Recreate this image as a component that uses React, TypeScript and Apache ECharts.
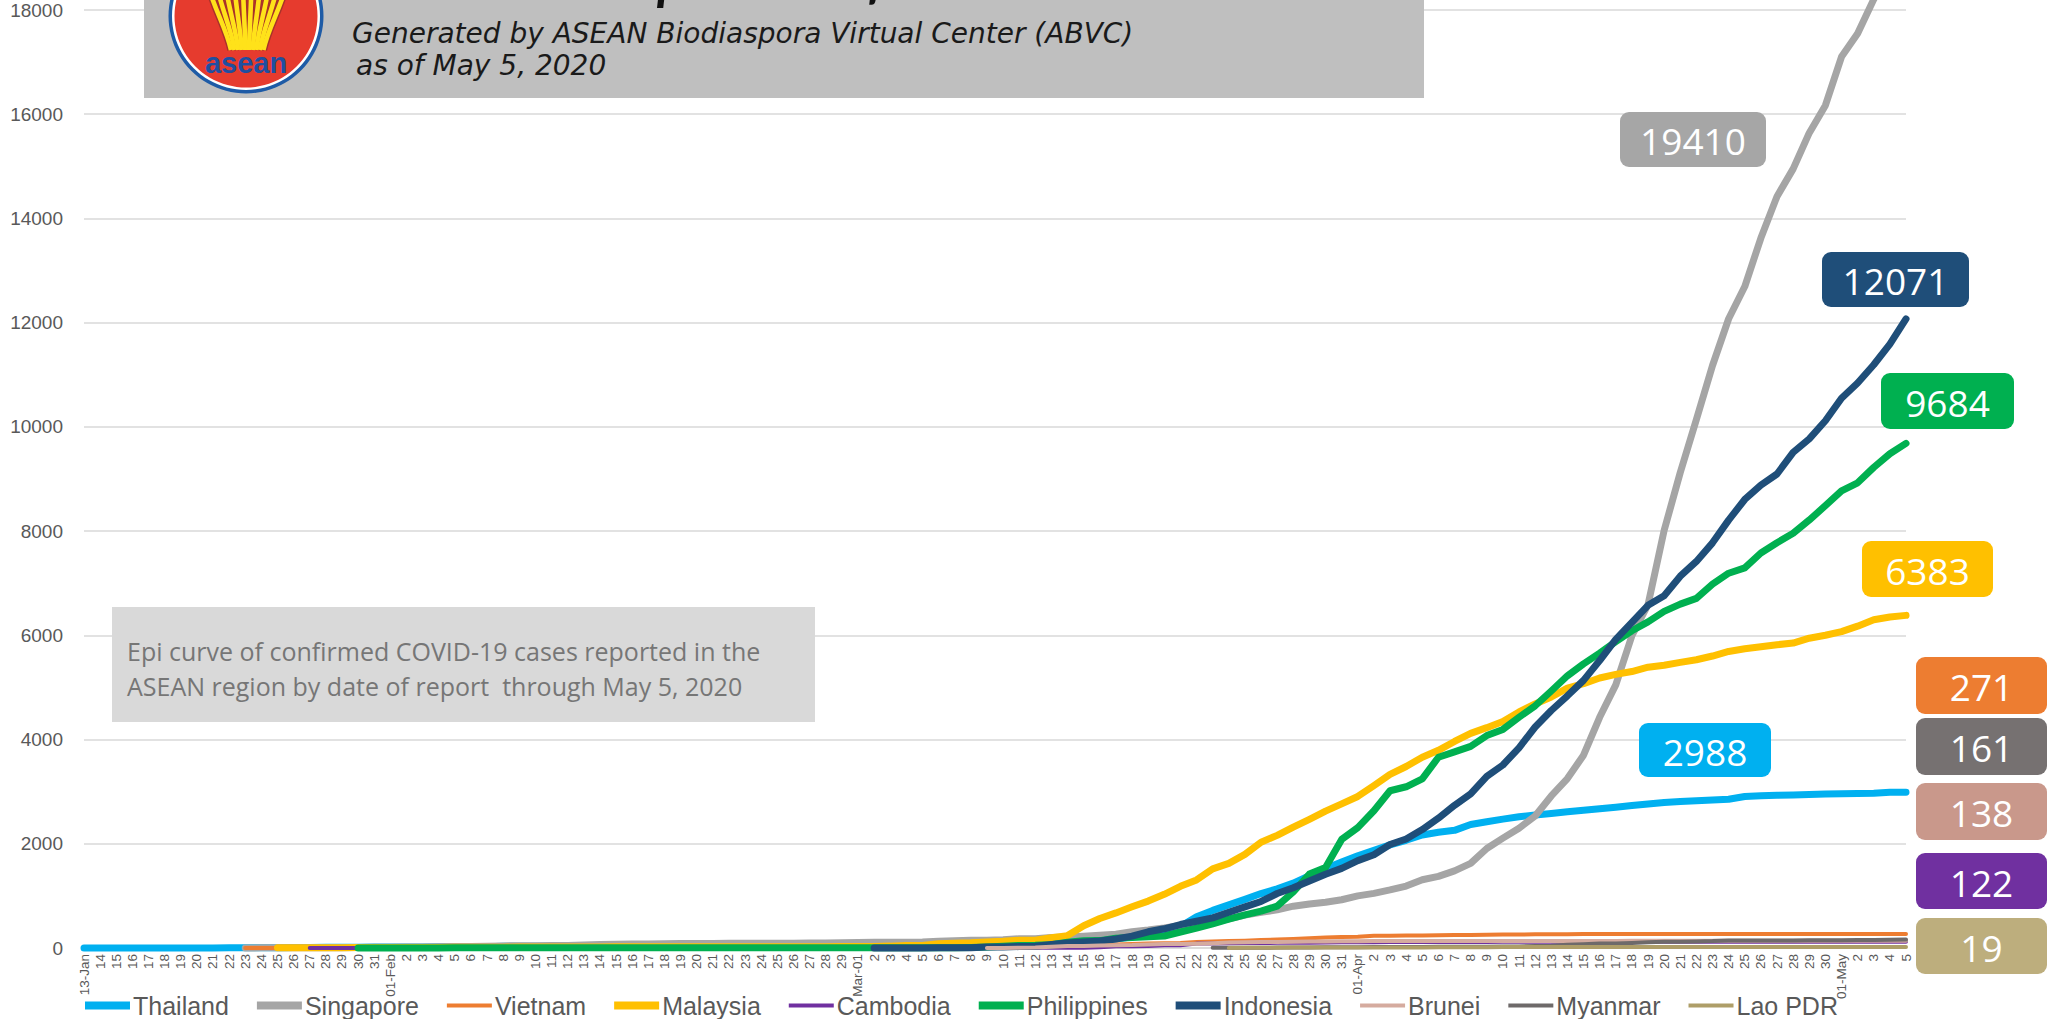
import React, { useEffect, useRef } from "react";
import * as echarts from "echarts";

// ---------- DATA ----------
const monthSpans = [
  { from: 13, to: 31, firstLabel: "13-Jan" },
  { from: 1, to: 29, firstLabel: "01-Feb" },
  { from: 1, to: 31, firstLabel: "Mar-01" },
  { from: 1, to: 30, firstLabel: "01-Apr" },
  { from: 1, to: 5, firstLabel: "01-May" },
];
const dateLabels: string[] = [];
monthSpans.forEach((m) => {
  for (let d = m.from; d <= m.to; d++) dateLabels.push(d === m.from ? m.firstLabel : String(d));
});

const N = null;

const thailand = [
  1, 1, 1, 1, 2, 2, 2, 2, 2, 4, 4, 5, 7, 8, 8, 14, 14, 14, 19,
  19, 19, 19, 25, 25, 25, 25, 32, 32, 32, 33, 33, 33, 33, 34, 34, 35, 35, 35, 35, 35, 35, 35, 35, 37, 40, 40, 41, 42,
  42, 43, 43, 43, 47, 48, 50, 50, 50, 53, 59, 70, 75, 82, 114, 147, 177, 212, 272, 322, 411, 599, 721, 827, 934, 1045, 1136, 1245, 1388, 1524, 1651,
  1771, 1875, 1978, 2067, 2169, 2220, 2258, 2369, 2423, 2473, 2518, 2551, 2579, 2613, 2643, 2672, 2700, 2733, 2765, 2792, 2811, 2826, 2839, 2854, 2907, 2922, 2931, 2938, 2947, 2954,
  2960, 2966, 2969, 2987, 2988,
];
const singapore = [
  N, N, N, N, N, N, N, N, N, N, 1, 3, 3, 4, 5, 7, 7, 10, 13,
  16, 18, 18, 24, 28, 30, 33, 40, 43, 45, 47, 50, 58, 67, 72, 75, 77, 81, 84, 84, 85, 89, 89, 90, 91, 93, 96, 98, 102,
  106, 108, 110, 112, 117, 130, 138, 150, 150, 160, 178, 178, 200, 212, 226, 243, 266, 313, 345, 385, 432, 455, 509, 558, 631, 683, 732, 802, 844, 879, 926,
  1000, 1049, 1114, 1189, 1309, 1375, 1481, 1623, 1910, 2108, 2299, 2532, 2918, 3252, 3699, 4427, 5050, 5992, 6588, 8014, 9125, 10141, 11178, 12075, 12693, 13624, 14423, 14951, 15641, 16169,
  17101, 17548, 18205, 18778, 19410,
];
const vietnam = [
  N, N, N, N, N, N, N, N, N, N, 2, 2, 2, 2, 2, 2, 2, 2, 2,
  6, 8, 8, 10, 10, 12, 12, 13, 14, 14, 15, 15, 16, 16, 16, 16, 16, 16, 16, 16, 16, 16, 16, 16, 16, 16, 16, 16, 16,
  16, 16, 16, 16, 16, 17, 18, 30, 31, 31, 38, 39, 47, 53, 57, 61, 66, 75, 85, 91, 94, 113, 123, 134, 141, 153, 163, 174, 188, 203, 212,
  218, 233, 237, 240, 241, 245, 249, 251, 255, 257, 258, 262, 265, 265, 267, 268, 268, 268, 268, 268, 268, 268, 268, 270, 270, 270, 270, 270, 270, 270,
  270, 271, 271, 271, 271,
];
const malaysia = [
  N, N, N, N, N, N, N, N, N, N, N, N, 3, 4, 4, 4, 7, 8, 8,
  8, 8, 8, 10, 12, 14, 15, 16, 18, 18, 18, 18, 18, 19, 22, 22, 22, 22, 22, 22, 22, 22, 22, 22, 22, 22, 23, 25, 29,
  29, 29, 36, 50, 50, 83, 93, 99, 117, 129, 149, 149, 197, 238, 428, 566, 673, 790, 900, 1030, 1183, 1306, 1518, 1624, 1796, 2031, 2161, 2320, 2470, 2626, 2766,
  2908, 3116, 3333, 3483, 3662, 3793, 3963, 4119, 4228, 4346, 4530, 4683, 4817, 4987, 5072, 5182, 5251, 5305, 5389, 5425, 5482, 5532, 5603, 5691, 5742, 5780, 5820, 5851, 5945, 6002,
  6071, 6176, 6298, 6353, 6383,
];
const cambodia = [
  N, N, N, N, N, N, N, N, N, N, N, N, N, N, 1, 1, 1, 1, 1,
  1, 1, 1, 1, 1, 1, 1, 1, 1, 1, 1, 1, 1, 1, 1, 1, 1, 1, 1, 1, 1, 1, 1, 1, 1, 1, 1, 1, 1,
  1, 1, 1, 1, 1, 1, 2, 2, 2, 3, 3, 3, 5, 7, 7, 12, 33, 35, 37, 51, 53, 84, 87, 91, 96, 96, 99, 99, 103, 107, 109,
  109, 110, 114, 114, 114, 115, 117, 117, 117, 119, 120, 122, 122, 122, 122, 122, 122, 122, 122, 122, 122, 122, 122, 122, 122, 122, 122, 122, 122, 122,
  122, 122, 122, 122, 122,
];
const philippines = [
  N, N, N, N, N, N, N, N, N, N, N, N, N, N, N, N, N, 1, 1,
  1, 2, 2, 2, 3, 3, 3, 3, 3, 3, 3, 3, 3, 3, 3, 3, 3, 3, 3, 3, 3, 3, 3, 3, 3, 3, 3, 3, 3,
  3, 3, 3, 3, 3, 5, 6, 10, 20, 33, 49, 52, 64, 111, 140, 142, 187, 202, 217, 230, 307, 380, 462, 552, 636, 707, 803, 1075, 1418, 1546, 2084,
  2311, 2633, 3018, 3094, 3246, 3660, 3764, 3870, 4076, 4195, 4428, 4648, 4932, 5223, 5453, 5660, 5878, 6087, 6259, 6459, 6599, 6710, 6981, 7192, 7294, 7579, 7777, 7958, 8212, 8488,
  8772, 8928, 9223, 9485, 9684,
];
const indonesia = [
  N, N, N, N, N, N, N, N, N, N, N, N, N, N, N, N, N, N, N,
  N, N, N, N, N, N, N, N, N, N, N, N, N, N, N, N, N, N, N, N, N, N, N, N, N, N, N, N, N,
  N, 2, 2, 2, 2, 4, 4, 6, 19, 19, 27, 34, 69, 96, 117, 134, 172, 227, 311, 369, 450, 514, 579, 686, 790, 893, 1046, 1155, 1285, 1414, 1528,
  1677, 1790, 1986, 2092, 2273, 2491, 2738, 2956, 3293, 3512, 3842, 4241, 4557, 4839, 5136, 5516, 5923, 6248, 6575, 6760, 7135, 7418, 7775, 8211, 8607, 8882, 9096, 9511, 9771, 10118,
  10551, 10843, 11192, 11587, 12071,
];
const brunei = [
  N, N, N, N, N, N, N, N, N, N, N, N, N, N, N, N, N, N, N,
  N, N, N, N, N, N, N, N, N, N, N, N, N, N, N, N, N, N, N, N, N, N, N, N, N, N, N, N, N,
  N, N, N, N, N, N, N, N, 1, 1, 6, 11, 25, 37, 40, 50, 54, 56, 68, 75, 78, 83, 91, 104, 109, 114, 115, 120, 126, 127, 129,
  131, 133, 134, 135, 135, 135, 135, 135, 135, 136, 136, 136, 136, 136, 136, 136, 136, 137, 138, 138, 138, 138, 138, 138, 138, 138, 138, 138, 138, 138,
  138, 138, 138, 138, 138,
];
const myanmar = [
  N, N, N, N, N, N, N, N, N, N, N, N, N, N, N, N, N, N, N,
  N, N, N, N, N, N, N, N, N, N, N, N, N, N, N, N, N, N, N, N, N, N, N, N, N, N, N, N, N,
  N, N, N, N, N, N, N, N, N, N, N, N, N, N, N, N, N, N, N, N, N, N, 3, 3, 3, 5, 8, 8, 10, 14, 15,
  15, 20, 20, 21, 21, 22, 22, 22, 23, 27, 28, 39, 41, 62, 74, 85, 88, 98, 111, 119, 121, 127, 132, 144, 145, 146, 146, 146, 150, 151,
  151, 155, 155, 156, 161,
];
const lao = [
  N, N, N, N, N, N, N, N, N, N, N, N, N, N, N, N, N, N, N,
  N, N, N, N, N, N, N, N, N, N, N, N, N, N, N, N, N, N, N, N, N, N, N, N, N, N, N, N, N,
  N, N, N, N, N, N, N, N, N, N, N, N, N, N, N, N, N, N, N, N, N, N, N, 2, 3, 6, 6, 8, 8, 8, 9,
  10, 10, 10, 11, 11, 12, 15, 16, 16, 19, 19, 19, 19, 19, 19, 19, 19, 19, 19, 19, 19, 19, 19, 19, 19, 19, 19, 19, 19, 19,
  19, 19, 19, 19, 19,
];

const countries = ["Thailand", "Singapore", "Vietnam", "Malaysia", "Cambodia", "Philippines", "Indonesia", "Brunei", "Myanmar", "Lao PDR"];
const countryData = [thailand, singapore, vietnam, malaysia, cambodia, philippines, indonesia, brunei, myanmar, lao];
const yTicks = [0, 2000, 4000, 6000, 8000, 10000, 12000, 14000, 16000, 18000];

// ---------- STYLE ----------
const lineColors = ["#00B0F0", "#A5A5A5", "#ED7D31", "#FFC000", "#7030A0", "#00B050", "#1F4E79", "#D5AB9F", "#6E6A6A", "#AE9E68"];
const thick = [true, true, false, true, false, true, true, false, false, false];

const labelBoxes = [
  { idx: 1, x: 1620, y: 112, w: 146, h: 55, fill: "#A6A6A6" },
  { idx: 6, x: 1822, y: 252, w: 147, h: 55, fill: "#1F4E79" },
  { idx: 5, x: 1881, y: 373, w: 133, h: 56, fill: "#00B050" },
  { idx: 3, x: 1862, y: 541, w: 131, h: 56, fill: "#FFC000" },
  { idx: 0, x: 1639, y: 723, w: 132, h: 54, fill: "#00B0F0" },
  { idx: 2, x: 1916, y: 657, w: 131, h: 57, fill: "#ED7D31" },
  { idx: 8, x: 1916, y: 718, w: 131, h: 57, fill: "#767171" },
  { idx: 7, x: 1916, y: 783, w: 131, h: 57, fill: "#C9988B" },
  { idx: 4, x: 1916, y: 853, w: 131, h: 56, fill: "#7030A0" },
  { idx: 9, x: 1916, y: 918, w: 131, h: 56, fill: "#BDAE7D" },
];

const SANS = "'Liberation Sans', Arial, sans-serif";
const ICON_THICK = "path://M0,0M45,10M0,1h45v8h-45z";
const ICON_THIN = "path://M0,0M45,10M0,3h45v4h-45z";

function buildLogo(): any[] {
  const els: any[] = [];
  const cx = 246, cy = 16;
  els.push({ type: "circle", z: 101, shape: { cx, cy, r: 77.5 }, style: { fill: "#1E5BA6" } });
  els.push({ type: "circle", z: 101, shape: { cx, cy, r: 74 }, style: { fill: "#FFFFFF" } });
  els.push({ type: "circle", z: 101, shape: { cx, cy, r: 71.5 }, style: { fill: "#E63B2E" } });
  for (let pass = 0; pass < 2; pass++) {
    for (let i = 0; i < 10; i++) {
      const bx = 231 + i * 3.6;
      const tx = 204 + i * 9.6;
      els.push({
        type: "bezierCurve",
        z: 102 + pass,
        shape: { x1: bx, y1: 50, x2: tx, y2: -45, cpx1: bx + (bx - 247) * 0.4, cpy1: 20, cpx2: tx, cpy2: -5 },
        style: { stroke: pass === 0 ? "#A8322A" : "#FFE21A", lineWidth: pass === 0 ? 7.5 : 4.6, fill: null },
      });
    }
  }
  els.push({
    type: "text", z: 104, x: cx, y: 63,
    style: { text: "asean", fontSize: 29, fontWeight: "bold", fontFamily: SANS, fill: "#1F4FA0", textAlign: "center", textVerticalAlign: "middle" },
  });
  return els;
}

export default function App() {
  const ref = useRef<HTMLDivElement>(null);
  useEffect(() => {
    if (!ref.current) return;
    const chart = echarts.init(ref.current, undefined, { renderer: "svg" });

    const series = countries.map((name, i) => ({
      name,
      type: "line",
      data: countryData[i],
      showSymbol: false,
      symbol: "none",
      clip: false,
      connectNulls: false,
      lineStyle: { color: lineColors[i], width: thick[i] ? 7 : 4, cap: "round", join: "round" },
      itemStyle: { color: lineColors[i] },
      emphasis: { disabled: true },
    }));

    const graphic: any[] = [
      { type: "rect", z: 100, shape: { x: 144, y: -40, width: 1280, height: 138 }, style: { fill: "#BFBFBF" } },
      ...buildLogo(),
      {
        type: "text", z: 105, x: 372, y: -21,
        style: { text: "COVID-19: Epi curve of ASEAN member states", fontSize: 52, fontWeight: "bold", fontStyle: "italic", fontFamily: "Lato, 'DejaVu Sans'", fill: "#111111", textVerticalAlign: "middle" },
      },
      {
        type: "text", z: 105, x: 352, y: 33,
        style: { text: "Generated by ASEAN Biodiaspora Virtual Center (ABVC)", fontSize: 28, fontStyle: "italic", fontFamily: "'DejaVu Sans'", fill: "#1A1A1A", textVerticalAlign: "middle" },
      },
      {
        type: "text", z: 105, x: 356, y: 65,
        style: { text: "as of May 5, 2020", fontSize: 28, fontStyle: "italic", fontFamily: "'DejaVu Sans'", fill: "#1A1A1A", textVerticalAlign: "middle" },
      },
      { type: "rect", z: 100, shape: { x: 112, y: 607, width: 703, height: 115 }, style: { fill: "#D9D9D9" } },
      {
        type: "text", z: 105, x: 127, y: 651,
        style: { text: "Epi curve of confirmed COVID-19 cases reported in the", fontSize: 25, fontFamily: "'Open Sans', 'Noto Sans'", fill: "#767676", textVerticalAlign: "middle" },
      },
      {
        type: "text", z: 105, x: 127, y: 686,
        style: { text: "ASEAN region by date of report  through May 5, 2020", fontSize: 25, fontFamily: "'Open Sans', 'Noto Sans'", fill: "#767676", textVerticalAlign: "middle" },
      },
    ];
    labelBoxes.forEach((b) => {
      const arr = countryData[b.idx];
      const last = arr[arr.length - 1];
      graphic.push({ type: "rect", z: 100, shape: { x: b.x, y: b.y, width: b.w, height: b.h, r: 9 }, style: { fill: b.fill } });
      graphic.push({
        type: "text", z: 105, x: b.x + b.w / 2, y: b.y + b.h / 2 + 1,
        style: { text: String(last), fontSize: 37, fontFamily: "'Open Sans', 'Noto Sans'", fill: "#FFFFFF", textAlign: "center", textVerticalAlign: "middle" },
      });
    });

    chart.setOption({
      animation: false,
      backgroundColor: "#FFFFFF",
      color: lineColors,
      grid: { left: 84, right: 150, top: 10, bottom: 71, containLabel: false },
      xAxis: {
        type: "category",
        data: dateLabels,
        boundaryGap: false,
        axisLine: { show: true, lineStyle: { color: "#D9D9D9", width: 1.5 } },
        axisTick: { show: false },
        axisLabel: { interval: 0, rotate: 90, fontSize: 13.5, color: "#595959", margin: 6, fontFamily: SANS },
        splitLine: { show: false },
      },
      yAxis: {
        type: "value",
        min: yTicks[0],
        max: yTicks[yTicks.length - 1],
        interval: yTicks[1] - yTicks[0],
        axisLine: { show: false },
        axisTick: { show: false },
        axisLabel: { fontSize: 19, color: "#595959", margin: 21, fontFamily: SANS, formatter: (v: number) => String(v) },
        splitLine: { lineStyle: { color: "#D9D9D9", width: 1.5 } },
      },
      legend: {
        left: 80,
        top: 988,
        itemGap: 28,
        itemWidth: 45,
        itemHeight: 10,
        selectedMode: false,
        itemStyle: { borderWidth: 0 },
        textStyle: { fontSize: 25, color: "#595959", fontFamily: SANS, padding: [0, 0, 0, -2] },
        data: countries.map((name, i) => ({ name, icon: thick[i] ? ICON_THICK : ICON_THIN })),
      },
      series,
      graphic,
    });
    return () => chart.dispose();
  }, []);
  return <div ref={ref} style={{ position: "fixed", left: 0, top: 0, width: 2056, height: 1019, background: "#fff" }} />;
}
